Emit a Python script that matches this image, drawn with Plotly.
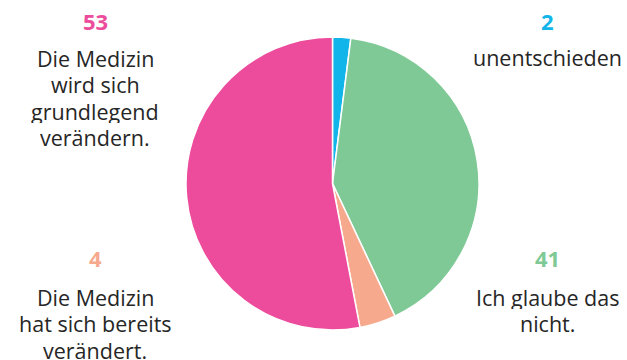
import plotly.graph_objects as go

labels = ["unentschieden", "Ich glaube das nicht.", "Die Medizin hat sich bereits verändert.", "Die Medizin wird sich grundlegend verändern."]
values = [2, 41, 4, 53]
colors = ["#12B5EA", "#7FC996", "#F7A98E", "#EC4C9B"]
label_lines = [["unentschieden"], ["Ich glaube das", "nicht."], ["Die Medizin", "hat sich bereits", "verändert."], ["Die Medizin", "wird sich", "grundlegend", "verändern."]]

W, H = 627, 360
fig = go.Figure(go.Pie(
    labels=labels, values=values, sort=False, direction="clockwise", rotation=0,
    marker=dict(colors=colors, line=dict(color="white", width=1.5)),
    textinfo="none", hoverinfo="label+value", showlegend=False,
    domain=dict(x=[186/W, 479/W], y=[(H-330)/H, (H-37)/H]),
))

# (x center px, number y px, first label line y px)
pos = [(547, 21, 57), (547, 258, 297), (95, 258, 297), (95, 21, 58)]
font = "Open Sans, Noto Sans, sans-serif"
for (x, ny, ly), v, c, lines in zip(pos, values, colors, label_lines):
    fig.add_annotation(x=x/W, y=1-ny/H, xref="paper", yref="paper", text=f"<b>{v}</b>",
                       showarrow=False, xanchor="center", yanchor="middle",
                       font=dict(family=font, size=22, color=c))
    for i, t in enumerate(lines):
        fig.add_annotation(x=x/W, y=1-(ly+26.3*i)/H, xref="paper", yref="paper", text=t,
                           showarrow=False, xanchor="center", yanchor="middle", height=24,
                           font=dict(family=font, size=21.5, color="#262626"))

fig.update_layout(width=W, height=H, margin=dict(l=0, r=0, t=0, b=0),
                  paper_bgcolor="white", plot_bgcolor="white")
fig.write_html("out.html", config={"displayModeBar": False},
               post_script="document.body.style.margin='0';document.body.style.overflow='hidden';")
